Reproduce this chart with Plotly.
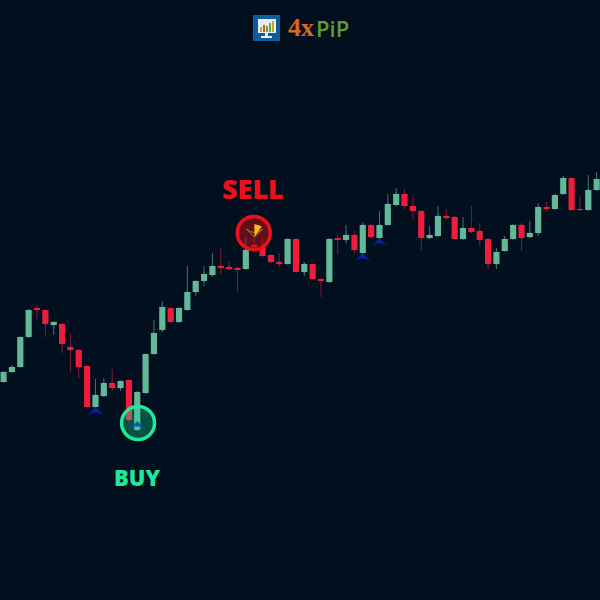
import plotly.graph_objects as go

BG = '#010f1f'
GREEN = '#62b899'
RED = '#f01c3c'

# prices, one entry per candle
opens = [218, 228, 233, 263, 291.5, 290, 275, 276, 253, 250, 234, 193, 204, 217, 212, 220, 170, 207,
         246, 270, 292, 278, 290, 308, 319, 325, 334, 333, 332, 331, 355, 353, 345, 338, 336, 361,
         328, 336, 321, 318, 361.5, 360, 365, 347, 375, 362, 375, 395, 406, 394, 389, 362, 364, 384,
         383, 361, 372, 369, 361, 336, 349, 361, 375, 363, 367, 392.5, 391, 406, 422, 391, 390, 410]
highs = [228, 235, 263, 290, 295, 290, 278, 276, 267, 250, 234, 221, 222, 231, 219, 220, 208, 246,
         280, 299, 292, 292, 334, 319, 334, 347, 352, 338, 333, 363, 365, 362, 345, 347, 361, 361,
         338, 336, 321, 361, 366, 375, 369, 378, 375, 389, 406, 412, 411, 404, 389, 374, 394, 391,
         383, 383, 394, 377, 361, 352, 364, 375, 377, 379, 397, 398, 406, 424, 422, 404, 425, 428]
lows = [218, 228, 233, 263, 281, 263, 265, 247, 228, 222, 193, 193, 203, 209, 209, 177, 170, 207,
        246, 268, 278, 278, 290, 304, 314, 323, 326, 330, 308, 331, 350, 344, 337, 333, 336, 328,
        324, 321, 303, 318, 346, 356, 346, 347, 361, 362, 375, 394, 391, 381, 350, 361, 364, 380,
        361, 361, 367, 354, 331, 331, 349, 361, 349, 362, 364, 388, 391, 406, 390, 390, 390, 410]
closes = [228, 233, 263, 290, 290, 276, 278, 256, 250, 233, 193, 205, 217, 212, 219, 180, 208, 246,
          267, 293, 278, 292, 308, 319, 326, 334, 332, 331, 330.5, 350, 353, 344, 338, 336, 361, 328,
          336, 321, 319, 361, 360.5, 365, 350, 375, 363, 375, 396, 406, 394, 389, 362, 365, 384, 382,
          361, 372, 368, 360, 336, 348, 361, 375, 362, 367, 393, 391.5, 405, 422, 390, 390, 410, 421]

# small blue arrows under candles
arrow_x = [11, 16, 43, 45]
arrow_y = [193, 179, 347, 362]

buy_x, buy_y, buy_label = [16.1], [177], 'BUY'
sell_x, sell_y, sell_label = [29.95], [367], 'SELL'
pointer_x, pointer_y = [30.04], [363]

candles = list(range(len(opens)))
body_colors = [GREEN if c >= o else RED for o, c in zip(opens, closes)]
body_size = [abs(c - o) for o, c in zip(opens, closes)]
body_base = [min(o, c) for o, c in zip(opens, closes)]

fig = go.Figure()

# wicks are dimmer than the bodies; bars sit on an overlaid axis pair so they cover the boxes
fig.add_trace(go.Candlestick(
    x=candles, open=opens, high=highs, low=lows, close=closes,
    whiskerwidth=0,
    increasing=dict(line=dict(color='#47736a', width=1), fillcolor=GREEN),
    decreasing=dict(line=dict(color='#8c1836', width=1), fillcolor=RED),
    hoverinfo='skip',
))
fig.add_trace(go.Bar(
    x=candles, y=body_size, base=body_base, width=0.74, xaxis='x2', yaxis='y2',
    marker=dict(color=body_colors, line=dict(width=0)),
))
fig.add_trace(go.Scatter(
    x=arrow_x, y=arrow_y, mode='markers', xaxis='x2', yaxis='y2',
    marker=dict(symbol='arrow-wide', size=13, color='#0a1ea6', line=dict(width=0)),
))
fig.add_trace(go.Scatter(
    x=buy_x, y=buy_y, mode='markers', xaxis='x2', yaxis='y2',
    marker=dict(symbol='circle', size=33, color='rgba(31,232,154,0.3)',
                line=dict(color='#1ee89a', width=3.5)),
))
fig.add_trace(go.Scatter(
    x=sell_x, y=sell_y, mode='markers', xaxis='x2', yaxis='y2',
    marker=dict(symbol='circle', size=33, color='rgba(190,15,20,0.5)',
                line=dict(color='#ee1018', width=3.5)),
))
# pointer inside the sell circle: thin outline with a gold half on top
fig.add_trace(go.Scatter(
    x=pointer_x, y=pointer_y, mode='markers', xaxis='x2', yaxis='y2',
    marker=dict(symbol='arrow-wide', size=11, color='rgba(0,0,0,0)', angle=180,
                line=dict(color='#b9791c', width=1)),
))
fig.add_trace(go.Scatter(
    x=pointer_x, y=pointer_y, mode='markers', xaxis='x2', yaxis='y2',
    marker=dict(symbol='arrow', size=13, color='#f5b91d', angle=197, line=dict(width=0)),
))

# logo, in pixels of the 600x600 page
def px(x0, y0, x1, y1, color):
    return dict(type='rect', xref='paper', yref='paper', layer='above',
                x0=x0 / 600, x1=x1 / 600, y0=1 - y0 / 600, y1=1 - y1 / 600,
                fillcolor=color, line=dict(width=0))

logo = [
    px(253, 15, 280, 41, '#0d5c9c'),
    px(258, 19, 276, 33, '#e6eef2'),
    px(265, 33, 268, 36, '#e6eef2'),
    px(261, 36, 272, 38, '#e6eef2'),
    px(260, 27, 262, 32, '#d9a020'),
    px(263, 25, 265, 32, '#d6542a'),
    px(266, 26, 268, 32, '#5fa83a'),
    px(269, 23, 271, 32, '#5fa83a'),
    px(272, 21, 274, 32, '#d9a020'),
]

def label(text, x, y, family, size, color, weight='normal', xanchor='center'):
    return dict(text=text, x=x / 600, y=1 - y / 600, xref='paper', yref='paper',
                xanchor=xanchor, yanchor='middle', showarrow=False,
                font=dict(family=family, size=size, color=color, weight=weight))

x_range = [-0.43, 71.4]
y_range = [0, 600]

fig.update_layout(
    width=600,
    height=600,
    margin=dict(l=0, r=0, t=0, b=0),
    paper_bgcolor=BG,
    plot_bgcolor=BG,
    showlegend=False,
    boxgap=0.6,
    xaxis=dict(range=x_range, visible=False, rangeslider=dict(visible=False)),
    yaxis=dict(range=y_range, visible=False),
    xaxis2=dict(range=x_range, visible=False, overlaying='x'),
    yaxis2=dict(range=y_range, visible=False, overlaying='y'),
    shapes=logo,
    annotations=[
        label(sell_label, 253, 189, 'Open Sans', 27, '#ec1018', 800),
        label(buy_label, 137, 477, 'Open Sans', 22, '#1ee89a', 800),
        label('4x', 286, 28, 'Liberation Serif', 26, '#d9691f', 700, 'left'),
        label('PiP', 314, 28, 'Open Sans', 22, '#5f9e2e', 600, 'left'),
    ],
)

# drop the page's default margin so the figure fills the window
fig.write_html("out.html", config=dict(displayModeBar=False),
               post_script="document.body.style.margin='0';document.body.style.overflow='hidden';document.body.style.background='" + BG + "';")
